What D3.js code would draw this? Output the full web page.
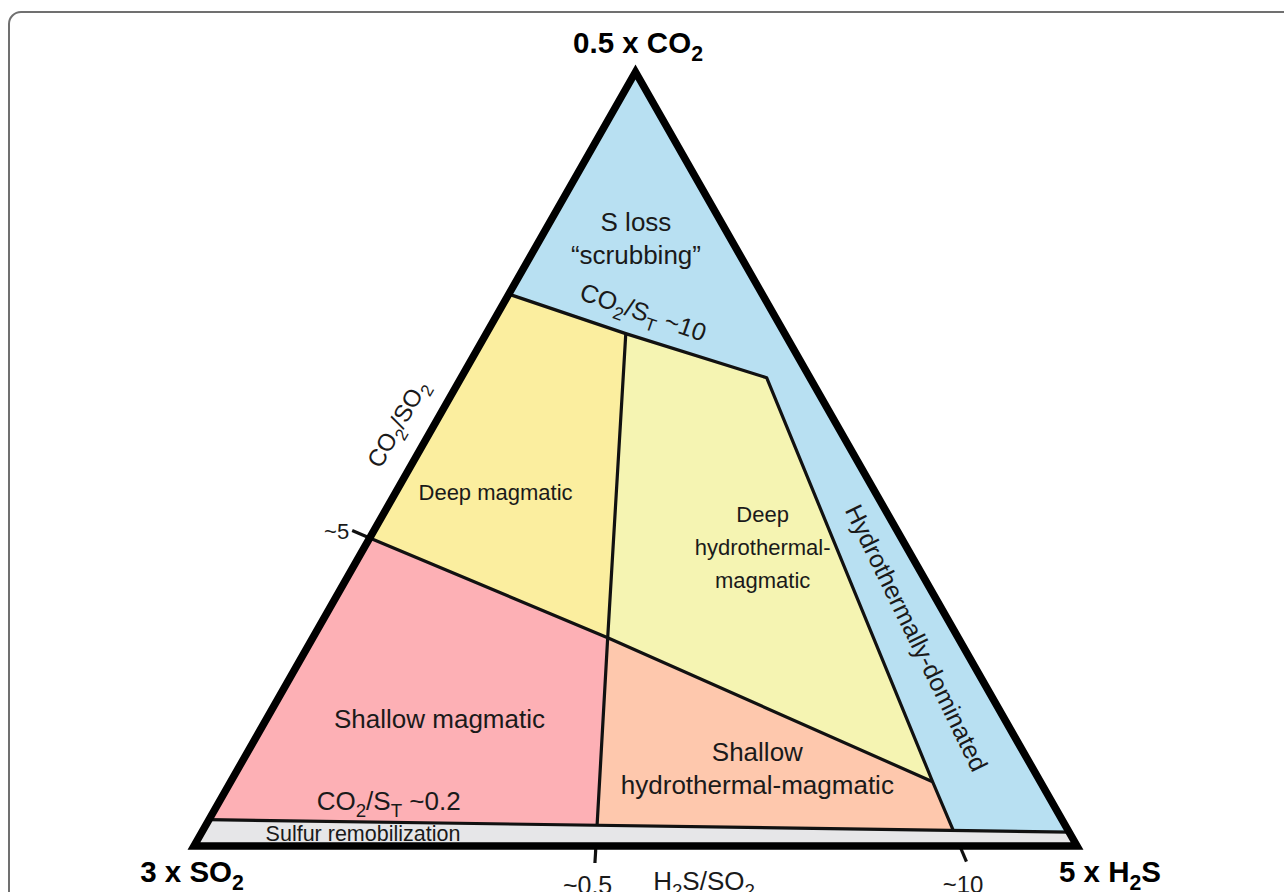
<!DOCTYPE html>
<html>
<head>
<meta charset="utf-8">
<script src="https://cdn.jsdelivr.net/npm/d3@7"></script>
<style>
  html, body { margin: 0; padding: 0; background: #fff; }
  svg { display: block; font-family: "Liberation Sans", Arial, Helvetica, sans-serif; }
</style>
</head>
<body>
<div id="chart"></div>
<script>
// ternary compositions are [CO2, SO2, H2S] fractions (apex, left, right)
const vertexLabels = ["0.5 x CO_2", "3 x SO_2", "5 x H_2S"];

// boundary nodes
const nodes = {
    s10Left:   [0.713, 0.287, 0.000],
    s10Mid:    [0.662, 0.180, 0.158],
    s10Right:  [0.605, 0.049, 0.346],
    s5Left:    [0.398, 0.602, 0.000],
    cross:     [0.269, 0.397, 0.334],
    s5Right:   [0.083, 0.122, 0.795],
    hydroBase: [0.021, 0.130, 0.849],
    midBase:   [0.027, 0.530, 0.443],
    remLeft:   [0.034, 0.966, 0.000],
    remRight:  [0.018, 0.000, 0.982]
};

const regionNames = ["Blue", "Sulfur remobilization", "Deep magmatic", "Deep hydrothermal-magmatic",
    "Shallow magmatic", "Shallow hydrothermal-magmatic"];
const regionNodes = [
    null,
    ["remLeft", "remRight", "C", "B"],
    ["s10Left", "s10Mid", "cross", "s5Left"],
    ["s10Mid", "s10Right", "s5Right", "cross"],
    ["s5Left", "cross", "midBase", "remLeft"],
    ["cross", "s5Right", "hydroBase", "midBase"]
];
const regionColors = ["#b8e0f2", "#e6e6e8", "#fbee9f", "#f5f4b2", "#fdb0b5", "#fec8ad"];

const boundaries = [
    ["s10Left", "s10Mid", "s10Right", "s5Right", "hydroBase"],
    ["s10Mid", "cross", "midBase"],
    ["s5Left", "cross", "s5Right"],
    ["remLeft", "remRight"]
];

// labels: text lines, [CO2, H2S] position, rotation
const labelText = [
    ["S loss", "\u201cscrubbing\u201d"],
    ["Deep magmatic"],
    ["Deep", "hydrothermal-", "magmatic"],
    ["Shallow magmatic"],
    ["Shallow", "hydrothermal-magmatic"],
    ["Hydrothermally-dominated"],
    ["CO_2/S_T ~10"],
    ["CO_2/SO_2"],
    ["~5"],
    ["CO_2/S_T ~0.2"],
    ["Sulfur remobilization"],
    ["~0.5"],
    ["H_2S/SO_2"],
    ["~10"]
];
const labelAt = [
    [0.785, 0.108], [0.457, 0.113], [0.386, 0.451], [0.164, 0.196], [0.100, 0.588],
    [0.269, 0.684], [0.690, 0.164], [0.546, -0.043], [0.407, -0.042], [0.059, 0.191],
    [0.0168, 0.183], [-0.0505, 0.471], [-0.0448, 0.600], [-0.0492, 0.8955]
];
const labelAngle = [0, 0, 0, 0, 0, 64, 19, -60, 0, 0, 0, 0, 0, 0];
const labelSize = [26, 22, 22, 26, 26, 25, 25, 24, 22, 26, 21.5, 25, 26, 24];

const W = 1284, H = 892;
const x = d3.scaleLinear().domain([0, 1]).range([194, 1077]);
const y = d3.scaleLinear().domain([0, 1]).range([846, 72]);
const proj = t => [x(t[2] + t[0] / 2), y(t[0])];
const corner = { A: [1, 0, 0], B: [0, 1, 0], C: [0, 0, 1] };
const pt = k => proj(corner[k] || nodes[k]);

const svg = d3.select("#chart").append("svg")
    .attr("width", W).attr("height", H);

// figure frame
svg.append("path")
    .attr("d", `M9,${H} L9,24 A12,12 0 0 1 21,12 L${W},12`)
    .attr("fill", "none").attr("stroke", "#707070").attr("stroke-width", 2);

const line = d3.line();

// regions
svg.append("path").attr("d", line(["A", "B", "C"].map(pt)) + "Z").attr("fill", regionColors[0]);
regionNodes.forEach((r, i) => {
    if (!r) return;
    svg.append("path")
        .attr("class", "region")
        .attr("d", line(r.map(pt)) + "Z")
        .attr("fill", regionColors[i]);
});

// inner boundaries
boundaries.forEach(b => {
    svg.append("path")
        .attr("d", line(b.map(pt)))
        .attr("fill", "none").attr("stroke", "#111").attr("stroke-width", 3.2)
        .attr("stroke-linejoin", "round");
});

// ticks: extensions of the boundary lines beyond the triangle
function extend(p, q, len) {
    const dx = q[0] - p[0], dy = q[1] - p[1], L = Math.hypot(dx, dy);
    return [q[0] + dx / L * len, q[1] + dy / L * len];
}
function toBase(a, b) {
    const t = a[0] / (a[0] - b[0]);
    return proj(a.map((v, i) => v + t * (b[i] - v)));
}
const ticks = [
    [pt("s5Left"), extend(pt("cross"), pt("s5Left"), 19)],
    [toBase(nodes.cross, nodes.midBase), extend(pt("cross"), toBase(nodes.cross, nodes.midBase), 17)],
    [toBase(nodes.s5Right, nodes.hydroBase), extend(pt("s5Right"), toBase(nodes.s5Right, nodes.hydroBase), 17)]
];
ticks.forEach(t => {
    svg.append("path").attr("d", line(t))
        .attr("stroke", "#111").attr("stroke-width", 3.2).attr("fill", "none");
});

// outer triangle
svg.append("path")
    .attr("d", line(["A", "B", "C"].map(pt)) + "Z")
    .attr("fill", "none").attr("stroke", "#000").attr("stroke-width", 7.5)
    .attr("stroke-linejoin", "miter");

// text with _x subscripts
function rich(el, str, size) {
    const parts = str.split(/_(\w)/);
    const shift = size * 0.28;
    parts.forEach((p, i) => {
        if (!p) return;
        const sub = i % 2 === 1;
        const ts = el.append("tspan").text(p);
        if (sub) {
            ts.attr("font-size", size * 0.72).attr("dy", shift);
        } else if (i > 0 && parts[i - 1]) {
            ts.attr("dy", -shift);
        }
    });
}

const lh = 33;
labelText.forEach((lines, i) => {
    const [px, py] = proj([labelAt[i][0], 1 - labelAt[i][0] - labelAt[i][1], labelAt[i][1]]);
    const size = labelSize[i];
    const g = svg.append("g")
        .attr("transform", `translate(${px},${py}) rotate(${labelAngle[i]})`);
    lines.forEach((ln, j) => {
        const t = g.append("text")
            .attr("x", 0)
            .attr("y", (j - (lines.length - 1) / 2) * lh + size * 0.36)
            .attr("text-anchor", "middle")
            .attr("font-size", size)
            .attr("fill", "#1a1a1a");
        rich(t, ln, size);
    });
});

// vertex labels
const vertexPos = [[638, 53], [192, 882], [1110, 882]];
vertexLabels.forEach((v, i) => {
    const t = svg.append("text")
        .attr("x", vertexPos[i][0]).attr("y", vertexPos[i][1])
        .attr("text-anchor", "middle")
        .attr("font-size", 29.5).attr("font-weight", "bold")
        .attr("fill", "#000");
    rich(t, v, 29.5);
});
</script>
</body>
</html>
